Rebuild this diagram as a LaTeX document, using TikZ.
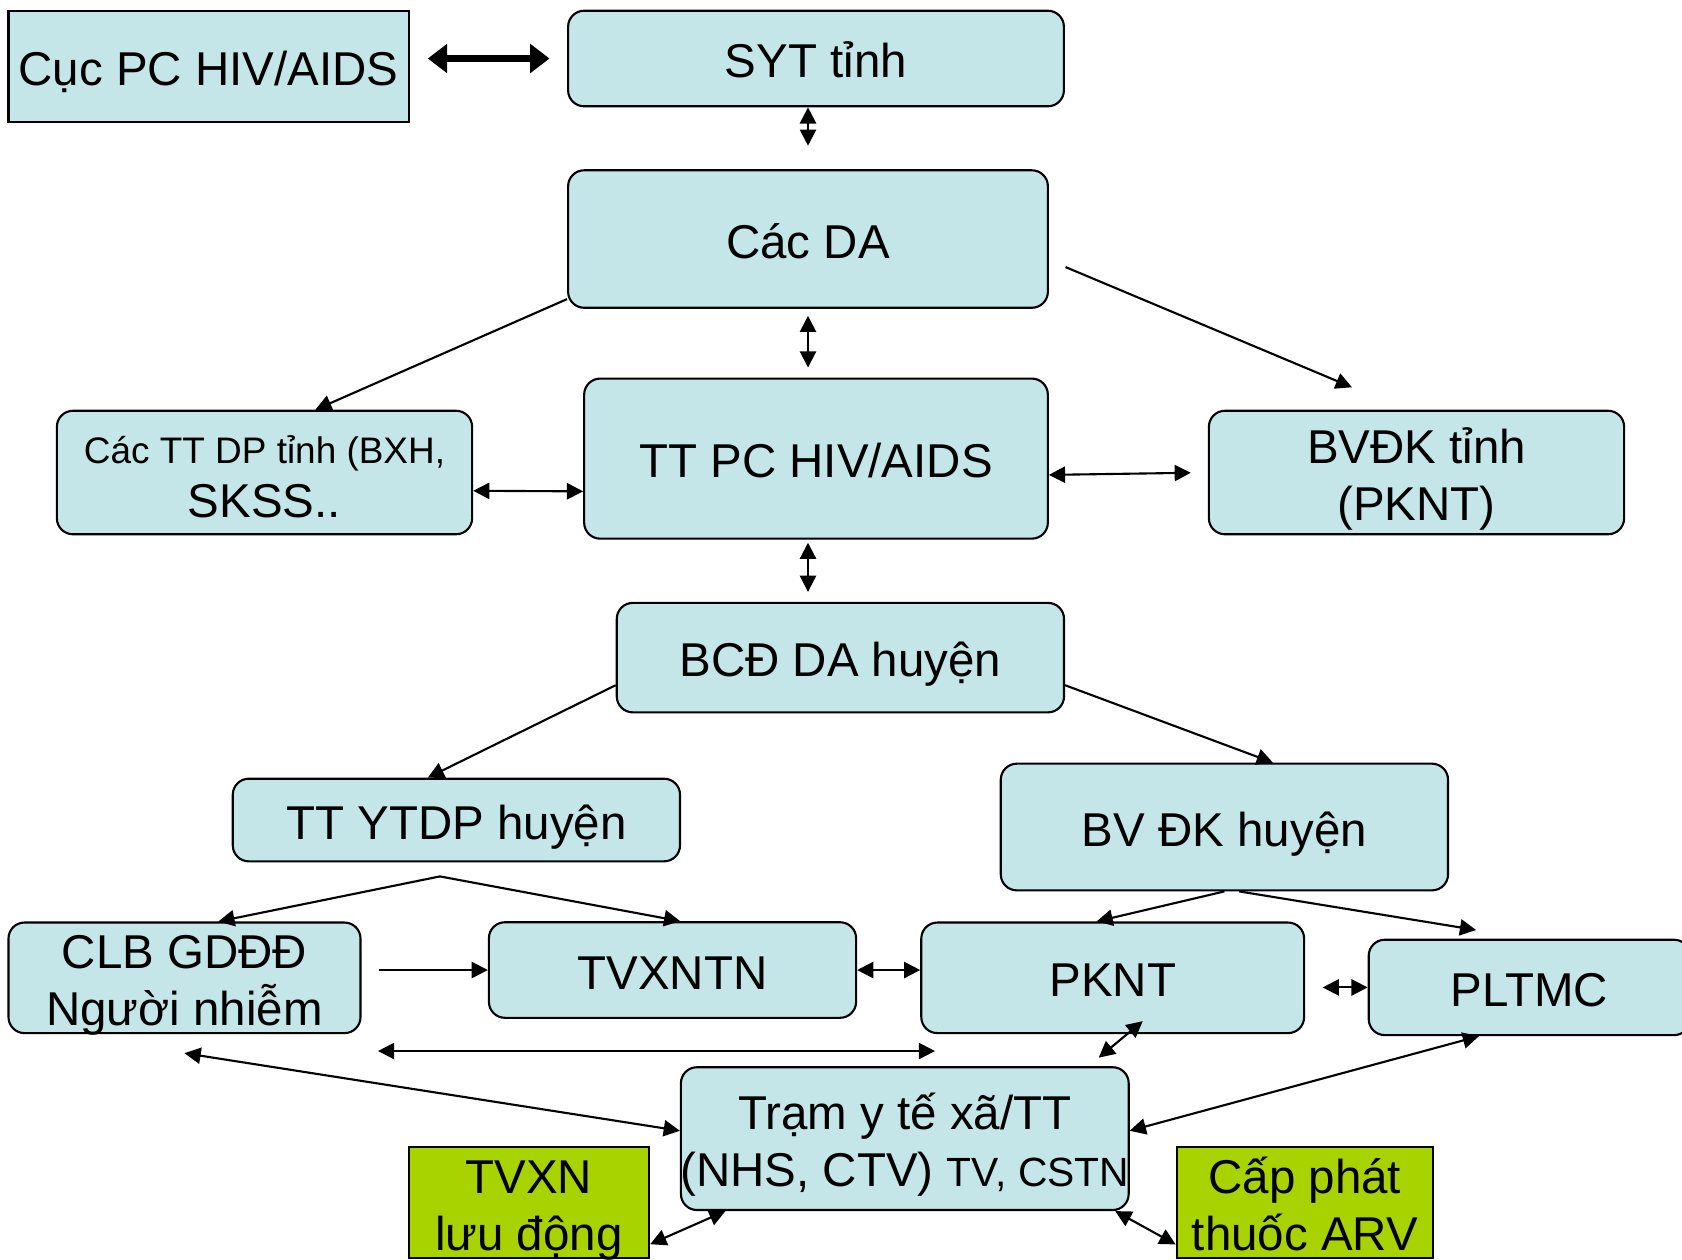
\documentclass[tikz,border=0pt]{standalone}
\usepackage{fontspec}
\setmainfont{Liberation Sans}
\usetikzlibrary{arrows.meta,positioning}
\definecolor{boxcyan}{RGB}{197,230,232}
\definecolor{boxgreen}{RGB}{168,210,0}
% two centred lines with a fixed top and bottom
\newcommand\twolines[3][13.9pt]{\rule{0pt}{#1}\smash{#2}\\\smash{#3}\rule[-2.86pt]{0pt}{0pt}}

\begin{document}
\begin{tikzpicture}[x=0.01cm,y=-0.01cm]
\tikzstyle{every node}=[font=\fontsize{13.5}{16.2}\selectfont, align=center, inner sep=0pt]
\tikzstyle{oneline}=[text height=13.7pt, text depth=2.86pt]
\tikzstyle{sqbox}=[draw, line width=0.6pt, fill=boxcyan]
\tikzstyle{rbox}=[sqbox, rounded corners=0.16cm]
\tikzstyle{gbox}=[draw, line width=0.6pt, fill=boxgreen]
\tikzstyle{onearr}=[line width=0.6pt, -{Triangle[length=4.6pt,width=4.6pt]}]
\tikzstyle{twoarr}=[line width=0.6pt, {Triangle[length=4.6pt,width=4.6pt]}-{Triangle[length=4.6pt,width=4.6pt]}]
\tikzstyle{bigarr}=[line width=2pt, {Triangle[length=5.5pt,width=8pt]}-{Triangle[length=5.5pt,width=8pt]}]

\useasboundingbox (0,0) rectangle (1682,1259);

% province level
\node[sqbox, oneline, minimum width=4cm, minimum height=1.116cm] (cuc) at (208.6,66.5) {Cục PC HIV/AIDS};
\node[rbox, oneline, minimum width=4.955cm, minimum height=0.955cm] (syt) at (816,58.5) {SYT tỉnh};
\node[rbox, oneline, minimum width=4.795cm, minimum height=1.374cm] (cacda) at (808,239) {Các DA};
\node[rbox, oneline, minimum width=4.634cm, minimum height=1.6cm] (ttpc) at (816,458.6) {TT PC HIV/AIDS};
\node[rbox, minimum width=4.15cm, minimum height=1.234cm] (ttdp) at (264.5,472.5)
  {\rule{0pt}{13.1pt}\smash{\fontsize{10.5}{12.6}\selectfont Các TT DP tỉnh (BXH,}\\[-0.9pt]\smash{SKSS..}\rule[-2.86pt]{0pt}{0pt}};
\node[rbox, minimum width=4.15cm, minimum height=1.234cm] (bvdk) at (1416.5,472.5) {\twolines{BVĐK tỉnh}{(PKNT)}};

% district level
\node[rbox, oneline, minimum width=4.47cm, minimum height=1.094cm] (bcd) at (840.4,657.6) {BCĐ DA huyện};
\node[rbox, oneline, minimum width=4.47cm, minimum height=0.826cm] (ytdp) at (456.4,820) {TT YTDP huyện};
\node[rbox, oneline, minimum width=4.47cm, minimum height=1.266cm] (bvhuyen) at (1224.4,827) {BV ĐK huyện};

\node[rbox, inner ysep=-0.05cm, minimum width=3.518cm, minimum height=1.105cm] (clb) at (184.5,977.8) {\twolines{CLB GDĐĐ}{Người nhiễm}};
\node[rbox, oneline, minimum width=3.67cm, minimum height=0.955cm] (tvxntn) at (672.5,970) {TVXNTN};
\node[rbox, oneline, minimum width=3.826cm, minimum height=1.105cm] (pknt) at (1112.7,977.8) {PKNT};
\node[rbox, oneline, minimum width=3.212cm, minimum height=0.953cm] (pltmc) at (1529.4,987.4) {PLTMC};

% commune level
\node[rbox, inner xsep=-0.06cm, minimum width=4.475cm, minimum height=1.427cm] (tram) at (904.8,1138.6)
  {\twolines{Trạm y tế xã/TT}{(NHS, CTV) {\fontsize{11.6}{14}\selectfont TV, CSTN}}};
\node[gbox, inner ysep=-0.05cm, minimum width=2.403cm, minimum height=1.113cm] (tvxn) at (528.9,1202.4) {\twolines{TVXN}{lưu động}};
\node[gbox, inner ysep=-0.05cm, minimum width=2.562cm, minimum height=1.113cm] (cap) at (1304.9,1202.4) {\twolines{Cấp phát}{thuốc ARV}};

\coordinate (ysplit) at ([xshift=-0.165cm,yshift=-0.14cm]ytdp.south);
\coordinate (midl) at (378,1051);
\coordinate (midr) at (935,1051);

\draw[bigarr, shorten <=0.18cm, shorten >=0.175cm] (syt.west -| cuc.east) -- (syt.west);
\draw[twoarr, shorten >=0.235cm] (syt.south -| cacda.north) -- (cacda.north);
\draw[twoarr, shorten <=0.07cm, shorten >=0.1cm] (cacda.south) -- (cacda.south |- ttpc.north);
\draw[onearr] (cacda.194) -- (ttdp.51);
\draw[onearr, shorten <=0.18cm, shorten >=0.58cm] (cacda.-5) -- (bvdk.100);
\draw[twoarr] (ttdp.-5) -- (ttpc.188);
\draw[twoarr, shorten >=0.17cm] (ttpc.-4) -- (bvdk.west);
\draw[twoarr, shorten <=0.03cm, shorten >=0.1cm] (ttpc.south -| cacda.south) -- (bcd.north -| cacda.south);

\draw[onearr] (bcd.187) -- (ytdp.124);
\draw[onearr] (bcd.-7) -- (bvhuyen.53);
\draw[onearr] (ysplit) -- (clb.59);
\draw[onearr] (ysplit) -- (tvxntn.81);
\draw[onearr] (bvhuyen.south) -- (pknt.106);
\draw[onearr, shorten >=0.54cm] (bvhuyen.-77) -- (pltmc.north);

\draw[onearr, shorten <=0.17cm] (clb.east |- tvxntn.west) -- (tvxntn.west);
\draw[twoarr] (tvxntn.east) -- (tvxntn.east -| pknt.west);
\draw[twoarr, shorten <=0.175cm] (pltmc.west -| pknt.east) -- (pltmc.west);
\draw[twoarr] (midl) -- (midr);

\draw[twoarr] ([yshift=-0.19cm]clb.south) -- (tram.178);
\draw[twoarr] ([xshift=0.3cm,yshift=0.13cm]pknt.south) -- ([xshift=-0.31cm,yshift=0.085cm]tram.north east);
\draw[twoarr] (pltmc.224) -- (tram.2);
\draw[twoarr] (tvxn.-19) -- (tram.202);
\draw[twoarr] (cap.198) -- (tram.-19);
\end{tikzpicture}
\end{document}
